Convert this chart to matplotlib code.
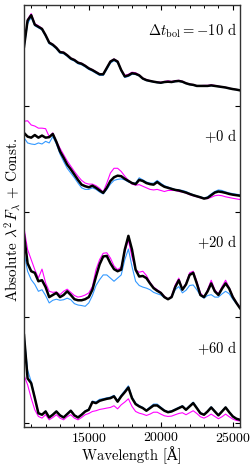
import matplotlib
matplotlib.use("Agg")
import matplotlib.pyplot as plt
import numpy as np
from matplotlib.ticker import MultipleLocator

plt.rcParams['font.family'] = 'serif'
plt.rcParams['font.serif'] = ['cmr10']
plt.rcParams['mathtext.fontset'] = 'cm'
plt.rcParams['axes.formatter.use_mathtext'] = True

# wavelength grid in Angstrom, 10500 .. 25500 every 250
wave = np.arange(10500, 25501, 250)

epochs = [r'$\Delta t_{\rm bol} = -10$ d', r'$+0$ d', r'$+20$ d', r'$+60$ d']
offsets = [3, 2, 1, 0]

# -10 d
m10_magenta = [0.56, 0.82, 0.875, 0.78, 0.76, 0.735, 0.675, 0.605, 0.585, 0.555, 0.515, 0.51, 0.485, 0.455,
               0.44, 0.415, 0.405, 0.385, 0.36, 0.345, 0.325, 0.305, 0.305, 0.365, 0.425, 0.445, 0.425, 0.345,
               0.29, 0.30, 0.32, 0.315, 0.295, 0.265, 0.25, 0.24, 0.232, 0.228, 0.225, 0.232, 0.238, 0.232,
               0.24, 0.243, 0.235, 0.218, 0.208, 0.203, 0.193, 0.193, 0.195, 0.195, 0.2, 0.195, 0.188, 0.182,
               0.177, 0.169, 0.162, 0.156, 0.149]
m10_blue = [0.55, 0.78, 0.84, 0.76, 0.74, 0.72, 0.66, 0.59, 0.57, 0.54, 0.50, 0.495, 0.47, 0.44,
            0.425, 0.40, 0.39, 0.37, 0.346, 0.33, 0.31, 0.29, 0.29, 0.345, 0.405, 0.43, 0.41, 0.33,
            0.27, 0.28, 0.30, 0.298, 0.284, 0.255, 0.24, 0.233, 0.226, 0.22, 0.217, 0.223, 0.226, 0.223,
            0.23, 0.233, 0.226, 0.212, 0.202, 0.197, 0.188, 0.187, 0.187, 0.187, 0.192, 0.188, 0.183, 0.178,
            0.173, 0.165, 0.158, 0.153, 0.146]
m10_black = [0.56, 0.81, 0.86, 0.77, 0.75, 0.73, 0.67, 0.60, 0.58, 0.55, 0.51, 0.505, 0.48, 0.45,
             0.435, 0.41, 0.40, 0.38, 0.356, 0.34, 0.32, 0.30, 0.30, 0.36, 0.42, 0.44, 0.42, 0.34,
             0.28, 0.29, 0.31, 0.305, 0.29, 0.26, 0.245, 0.237, 0.23, 0.224, 0.22, 0.227, 0.23, 0.227,
             0.234, 0.237, 0.23, 0.215, 0.205, 0.20, 0.19, 0.19, 0.19, 0.19, 0.195, 0.19, 0.185, 0.18,
             0.175, 0.167, 0.16, 0.155, 0.148]

# +0 d
p0_magenta = [0.855, 0.86, 0.82, 0.81, 0.79, 0.79, 0.785, 0.71, 0.745, 0.665, 0.60, 0.54, 0.48, 0.43,
              0.38, 0.335, 0.295, 0.27, 0.26, 0.26, 0.245, 0.22, 0.185, 0.27, 0.365, 0.41, 0.41, 0.38,
              0.335, 0.295, 0.26, 0.25, 0.255, 0.24, 0.225, 0.21, 0.205, 0.21, 0.20, 0.19, 0.20, 0.20,
              0.20, 0.19, 0.185, 0.175, 0.16, 0.15, 0.14, 0.13, 0.123, 0.123, 0.135, 0.15, 0.155, 0.15,
              0.14, 0.133, 0.126, 0.12, 0.114]
p0_blue = [0.70, 0.65, 0.64, 0.635, 0.65, 0.64, 0.665, 0.65, 0.71, 0.64, 0.545, 0.475, 0.41, 0.365,
           0.32, 0.27, 0.225, 0.21, 0.21, 0.225, 0.21, 0.185, 0.167, 0.21, 0.26, 0.295, 0.305, 0.31,
           0.30, 0.28, 0.27, 0.27, 0.32, 0.30, 0.28, 0.27, 0.268, 0.295, 0.268, 0.245, 0.233, 0.22,
           0.21, 0.205, 0.20, 0.19, 0.173, 0.16, 0.148, 0.139, 0.13, 0.139, 0.167, 0.19, 0.205, 0.20,
           0.186, 0.177, 0.17, 0.164, 0.16]
p0_black = [0.745, 0.71, 0.70, 0.725, 0.70, 0.72, 0.70, 0.705, 0.735, 0.66, 0.57, 0.51, 0.445, 0.40,
            0.35, 0.30, 0.255, 0.24, 0.23, 0.245, 0.225, 0.20, 0.177, 0.225, 0.29, 0.325, 0.34, 0.335,
            0.31, 0.29, 0.27, 0.26, 0.30, 0.29, 0.27, 0.26, 0.255, 0.28, 0.255, 0.235, 0.225, 0.215,
            0.205, 0.20, 0.19, 0.18, 0.167, 0.155, 0.145, 0.135, 0.123, 0.13, 0.155, 0.18, 0.19, 0.185,
            0.177, 0.167, 0.16, 0.155, 0.15]

# +20 d
p20_magenta = [0.845, 0.64, 0.545, 0.45, 0.37, 0.455, 0.325, 0.245, 0.235, 0.24, 0.213, 0.245, 0.265, 0.235,
               0.205, 0.19, 0.197, 0.21, 0.23, 0.29, 0.45, 0.545, 0.605, 0.61, 0.56, 0.485, 0.45, 0.475,
               0.62, 0.73, 0.57, 0.45, 0.425, 0.435, 0.395, 0.33, 0.285, 0.26, 0.235, 0.198, 0.17, 0.20,
               0.305, 0.37, 0.265, 0.32, 0.42, 0.435, 0.34, 0.23, 0.19, 0.26, 0.35, 0.26, 0.22, 0.29,
               0.35, 0.28, 0.198, 0.14, 0.095]
p20_blue = [0.61, 0.435, 0.355, 0.31, 0.245, 0.26, 0.205, 0.135, 0.16, 0.17, 0.16, 0.165, 0.18, 0.165,
            0.128, 0.115, 0.11, 0.103, 0.135, 0.205, 0.30, 0.355, 0.40, 0.40, 0.37, 0.34, 0.37, 0.40,
            0.545, 0.645, 0.48, 0.34, 0.30, 0.285, 0.275, 0.26, 0.235, 0.222, 0.21, 0.185, 0.17, 0.19,
            0.26, 0.29, 0.23, 0.255, 0.30, 0.305, 0.26, 0.205, 0.18, 0.205, 0.213, 0.19, 0.19, 0.22,
            0.245, 0.222, 0.17, 0.128, 0.087]
p20_black = [0.78, 0.51, 0.435, 0.42, 0.34, 0.35, 0.285, 0.19, 0.21, 0.23, 0.19, 0.21, 0.245, 0.21,
             0.17, 0.16, 0.16, 0.17, 0.19, 0.26, 0.385, 0.50, 0.575, 0.58, 0.51, 0.455, 0.435, 0.45,
             0.64, 0.77, 0.64, 0.45, 0.385, 0.39, 0.37, 0.32, 0.275, 0.25, 0.23, 0.19, 0.17, 0.19,
             0.285, 0.35, 0.26, 0.31, 0.40, 0.42, 0.32, 0.21, 0.19, 0.245, 0.32, 0.245, 0.21, 0.27,
             0.32, 0.27, 0.19, 0.135, 0.085]

# +60 d
p60_magenta = [0.45, 0.36, 0.233, 0.123, 0.06, 0.044, 0.076, 0.028, 0.05, 0.076, 0.044, 0.028, 0.057, 0.076,
               0.044, 0.028, 0.05, 0.076, 0.088, 0.107, 0.114, 0.126, 0.132, 0.139, 0.145, 0.161, 0.132, 0.17,
               0.196, 0.227, 0.155, 0.107, 0.091, 0.082, 0.069, 0.082, 0.10, 0.10, 0.082, 0.066, 0.06, 0.063,
               0.076, 0.088, 0.095, 0.076, 0.095, 0.114, 0.088, 0.057, 0.044, 0.06, 0.082, 0.06, 0.038, 0.057,
               0.082, 0.057, 0.035, 0.022, 0.016]
p60_blue = [0.83, 0.50, 0.39, 0.245, 0.095, 0.08, 0.112, 0.054, 0.08, 0.112, 0.074, 0.054, 0.086, 0.118,
            0.074, 0.054, 0.08, 0.112, 0.13, 0.205, 0.198, 0.222, 0.228, 0.236, 0.243, 0.26, 0.21, 0.262,
            0.305, 0.35, 0.245, 0.186, 0.163, 0.146, 0.12, 0.15, 0.177, 0.177, 0.148, 0.12, 0.106, 0.113,
            0.13, 0.146, 0.162, 0.13, 0.162, 0.196, 0.146, 0.096, 0.08, 0.113, 0.152, 0.113, 0.074, 0.112,
            0.15, 0.104, 0.063, 0.04, 0.03]
p60_black = [0.83, 0.42, 0.375, 0.235, 0.09, 0.076, 0.107, 0.05, 0.076, 0.107, 0.07, 0.05, 0.082, 0.114,
             0.07, 0.05, 0.076, 0.107, 0.123, 0.196, 0.186, 0.208, 0.218, 0.227, 0.233, 0.25, 0.20, 0.25,
             0.29, 0.334, 0.233, 0.177, 0.155, 0.139, 0.114, 0.139, 0.164, 0.164, 0.139, 0.114, 0.10, 0.107,
             0.123, 0.139, 0.155, 0.123, 0.155, 0.186, 0.139, 0.09, 0.076, 0.107, 0.145, 0.107, 0.07, 0.107,
             0.145, 0.10, 0.06, 0.038, 0.028]

magenta = [m10_magenta, p0_magenta, p20_magenta, p60_magenta]
blue = [m10_blue, p0_blue, p20_blue, p60_blue]
black = [m10_black, p0_black, p20_black, p60_black]

fig = plt.figure(figsize=(2.5, 4.67), dpi=100)
ax = fig.add_axes([0.096, 0.085, 0.864, 0.904])

for i in range(4):
    off = offsets[i]
    ax.plot(wave, np.array(magenta[i]) + off, color='#ff00ff', lw=0.8)
    ax.plot(wave, np.array(blue[i]) + off, color='#3399ff', lw=0.8)
    ax.plot(wave, np.array(black[i]) + off, color='black', lw=1.8)
    ax.text(25300, off + 0.71, epochs[i], ha='right', va='center', fontsize=10.5)

ax.set_xlim(10500, 25500)
ax.set_ylim(-0.043, 3.955)
ax.set_xticks([15000, 20000, 25000])
ax.xaxis.set_minor_locator(MultipleLocator(1000))
ax.set_yticks([0, 1, 2, 3])
ax.set_yticklabels([])
ax.tick_params(which='both', direction='in', top=True, right=True, labelsize=10)
ax.tick_params(which='major', length=3.5, width=0.8)
ax.tick_params(which='minor', length=2, width=0.7)
ax.tick_params(axis='x', pad=3)
for s in ax.spines.values():
    s.set_linewidth(1.0)
    s.set_color('#333333')

ax.set_xlabel('Wavelength [Å]', fontsize=10.5, family=['cmr10', 'DejaVu Serif'])
ax.xaxis.set_label_coords(0.5, -0.045)
fig.text(12.5 / 250, 1 - 220 / 467, r'Absolute $\lambda^2 F_\lambda$ + Const.',
         rotation=90, ha='center', va='center', fontsize=11)

fig.savefig('out.png', dpi=100)
